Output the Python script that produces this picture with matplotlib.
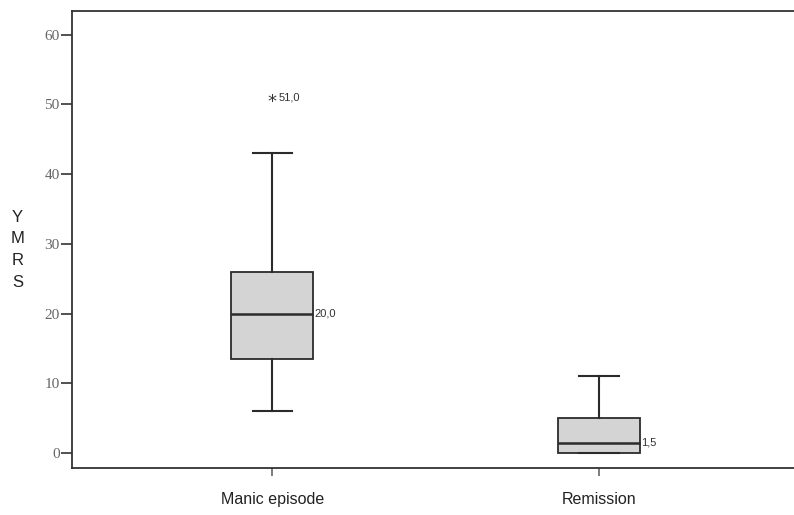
import matplotlib
matplotlib.use("Agg")
import matplotlib.pyplot as plt

# box statistics
groups = ["Manic episode", "Remission"]
whislo = [6.0, 0.0]
q1 = [13.5, 0.0]
med = [20.0, 1.5]
q3 = [26.0, 5.0]
whishi = [43.0, 11.0]
fliers = [[51.0], []]
median_labels = ["20,0", "1,5"]
flier_labels = ["51,0", None]
yticks = [0, 10, 20, 30, 40, 50, 60]

stats = []
for i, g in enumerate(groups):
    stats.append({
        "label": g, "whislo": whislo[i], "q1": q1[i], "med": med[i],
        "q3": q3[i], "whishi": whishi[i], "fliers": fliers[i],
    })

fig = plt.figure(figsize=(7.94, 5.15), dpi=100)
ax = fig.add_axes([0.0907, 0.0913, 0.9093, 0.8873])

positions = [1, 2]
edge = "#2b2b2b"
ax.bxp(stats, positions=positions, widths=0.25, patch_artist=True, showfliers=False,
       boxprops=dict(facecolor="#d4d4d4", edgecolor=edge, linewidth=1.3),
       medianprops=dict(color=edge, linewidth=1.8),
       whiskerprops=dict(color=edge, linewidth=1.5),
       capprops=dict(color=edge, linewidth=1.5),
       capwidths=0.12)

for i, p in enumerate(positions):
    ax.text(p + 0.128, med[i], median_labels[i], va="center", ha="left",
            fontsize=8, color="#333333", family="Liberation Sans")
    for f in fliers[i]:
        # outlier drawn as an asterisk glyph, SPSS style
        ax.text(p, f - 0.6, "*", va="center", ha="center", fontsize=13,
                color="#333333", family="DejaVu Sans")
        ax.text(p + 0.02, f, flier_labels[i], va="center", ha="left",
                fontsize=8, color="#333333", family="Liberation Sans")

ax.set_xlim(0.388, 2.596)
ax.set_ylim(-2.15, 63.4)
ax.set_yticks(yticks)
ax.set_yticklabels([str(t) for t in yticks], family="Liberation Serif",
                   fontsize=11, color="#666666")
ax.set_xticks(positions)
ax.set_xticklabels(groups, family="Liberation Sans", fontsize=11.5, color="#222222")
ax.tick_params(axis="y", length=8, width=1.2, color="#333333", pad=1)
ax.tick_params(axis="x", length=6, width=1.2, color="#666666", pad=11)

for s in ["left", "bottom", "top"]:
    ax.spines[s].set_color("#333333")
    ax.spines[s].set_linewidth(1.3)
ax.spines["right"].set_visible(False)

fig.text(0.022, 0.515, "Y\nM\nR\nS", ha="center", va="center", fontsize=12,
         family="Liberation Sans", color="#222222", linespacing=1.55)

fig.savefig("out.png", dpi=100)
